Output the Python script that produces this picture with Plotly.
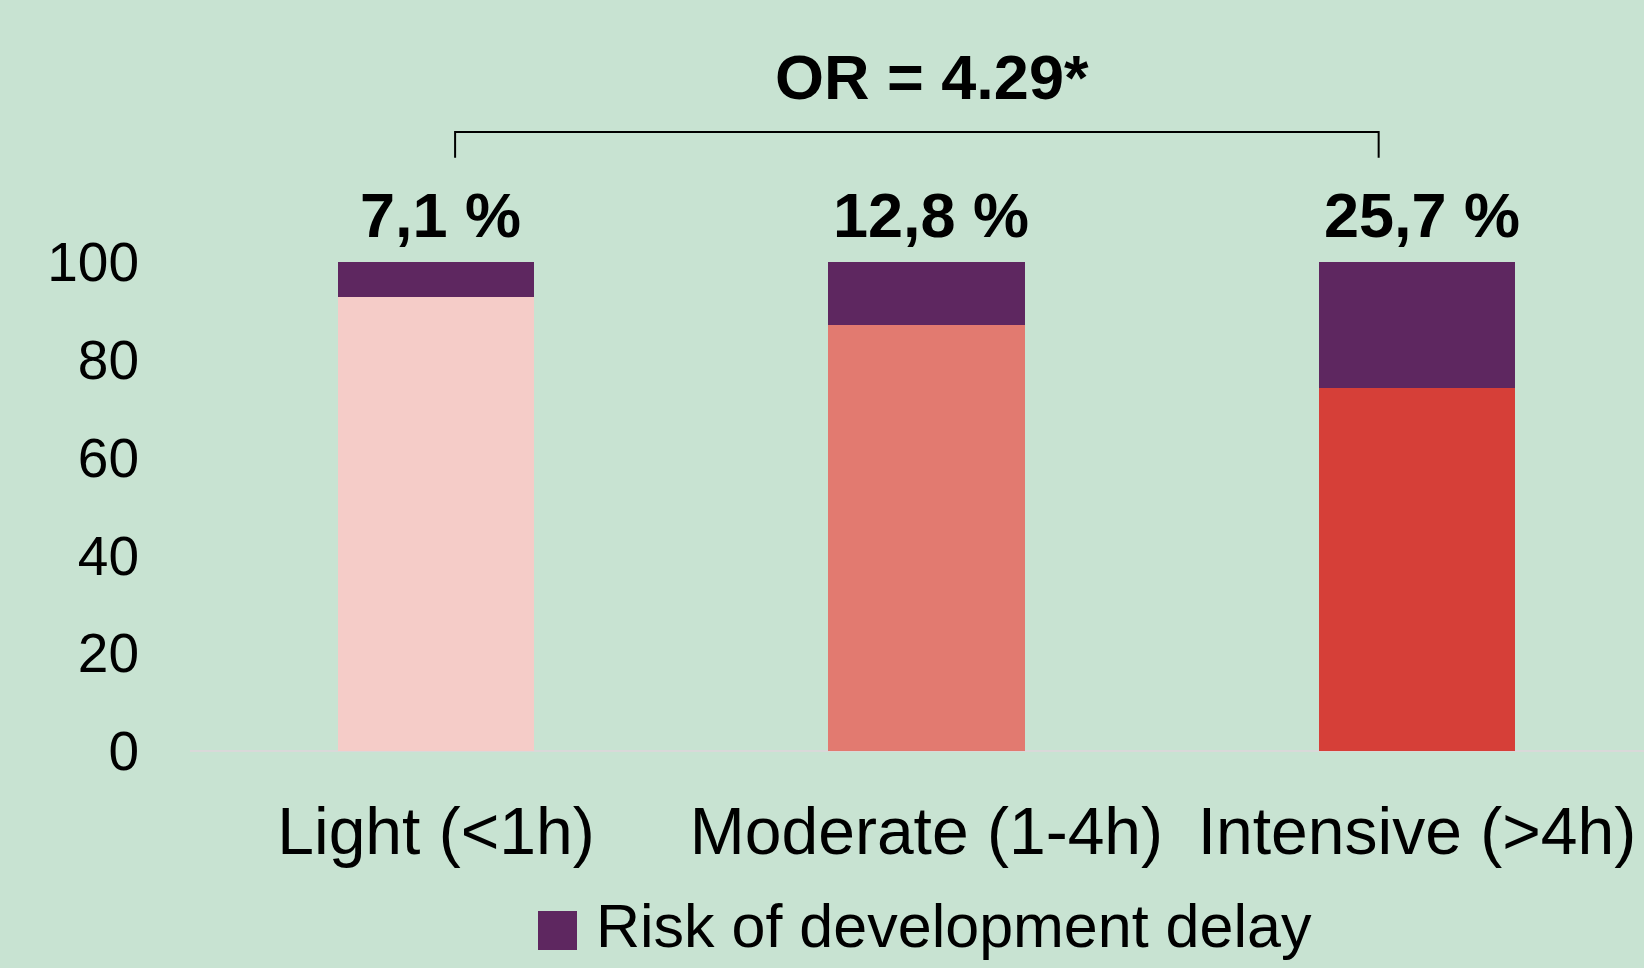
import plotly.graph_objects as go

categories = ["Light (<1h)", "Moderate (1-4h)", "Intensive (>4h)"]
risk_pct = [7.1, 12.8, 25.7]
rest_pct = [92.9, 87.2, 74.3]
risk_labels = ["7,1 %", "12,8 %", "25,7 %"]
or_label = "OR = 4.29*"
legend_label = "Risk of development delay"
y_ticks = [0, 20, 40, 60, 80, 100]

BG = "#C8E3D2"
PURPLE = "#5E2760"
BASE_COLORS = ["#F5CCC8", "#E27A70", "#D63F38"]
BOLD = "Liberation Sans, Arial, sans-serif"
SANS = "Liberation Sans, Arial, sans-serif"

fig = go.Figure()
fig.add_trace(go.Bar(x=categories, y=rest_pct, marker=dict(color=BASE_COLORS, line=dict(width=0)),
                     width=0.4, showlegend=False, hoverinfo="skip"))
fig.add_trace(go.Bar(x=categories, y=risk_pct, marker=dict(color=PURPLE, line=dict(width=0)),
                     width=0.4, name=legend_label, showlegend=False))

# percentage labels above bars
for i, lab in enumerate(risk_labels):
    fig.add_annotation(x=i, y=109.6, xref="x", yref="y", text=lab, showarrow=False,
                       font=dict(family=BOLD, size=63, color="black", weight="bold"),
                       xanchor="center", yanchor="middle", xshift=5)

# bracket + OR
x_left, x_right = 0.039, 1.922
y_top, y_bot = 126.6, 121.3
fig.add_shape(type="path", xref="x", yref="y",
              path=f"M {x_left} {y_bot} L {x_left} {y_top} L {x_right} {y_top} L {x_right} {y_bot}",
              line=dict(color="black", width=2))
fig.add_annotation(x=1.011, y=137.8, xref="x", yref="y", text=or_label, showarrow=False,
                   font=dict(family=BOLD, size=63, color="black", weight="bold"),
                   xanchor="center", yanchor="middle")

# legend (manual, large swatch)
fig.add_shape(type="rect", xref="paper", yref="paper",
              x0=(538 - 190) / 1454, x1=(577 - 190) / 1454,
              y0=(751 - 950) / 751, y1=(751 - 911) / 751,
              fillcolor=PURPLE, line=dict(width=0))
fig.add_annotation(x=(594 - 190) / 1454, y=(751 - 926) / 751, xref="paper", yref="paper",
                   text=legend_label, showarrow=False, xanchor="left", yanchor="middle",
                   font=dict(family=SANS, size=61, color="black"))

fig.update_layout(
    width=1644, height=968,
    margin=dict(l=190, r=0, t=0, b=217, pad=0),
    paper_bgcolor=BG, plot_bgcolor=BG,
    barmode="stack", bargap=0.6,
    font=dict(family=SANS, color="black"),
)
fig.update_xaxes(range=[-0.5015, 2.463], showgrid=False, zeroline=False,
                 showline=False, ticks="", tickfont=dict(family=SANS, size=66, color="black"),
                 ticklabelstandoff=36)
fig.update_yaxes(range=[0, 153.58], tickvals=y_ticks, showgrid=False, zeroline=True,
                 zerolinecolor="#D9D9D9", zerolinewidth=2, showline=False, ticks="",
                 tickfont=dict(family=SANS, size=55, color="black"), ticklabelstandoff=50)

fig.write_html("out.html", config={"displayModeBar": False},
               post_script="document.body.style.margin='0';document.body.style.background='" + BG + "';")
